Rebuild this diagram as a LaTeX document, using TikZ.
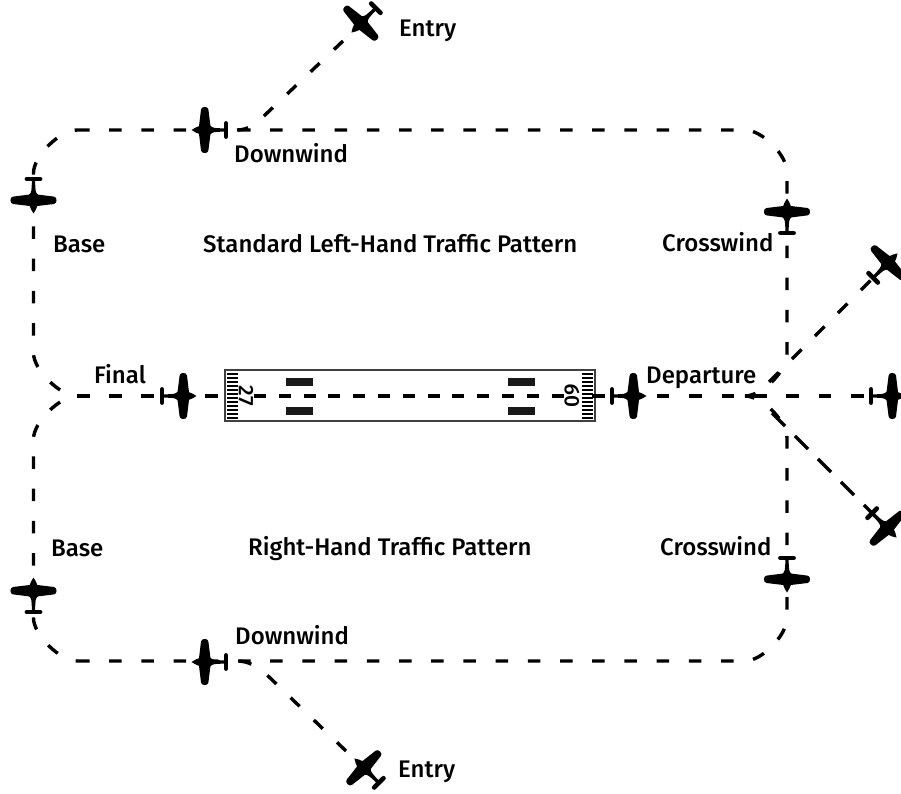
\documentclass[tikz,border=0pt]{standalone}
\usepackage{fontspec}
\setmainfont{Fira Sans}[UprightFont=* Medium]
\tikzset{
  plane/.pic={
    \fill (13.5,0) .. controls (11,2.2) and (8,2.8) .. (6,3.8)
      -- (4,20.5) .. controls (3.6,23.9) and (-3.2,23.9) .. (-3.4,20.5)
      -- (-5.4,4.4) .. controls (-7,2.2) and (-9,1.7) .. (-19,1.7)
      -- (-19,-1.7) .. controls (-9,-1.7) and (-7,-2.2) .. (-5.4,-4.4)
      -- (-3.4,-20.5) .. controls (-3.2,-23.9) and (3.6,-23.9) .. (4,-20.5)
      -- (6,-3.8) .. controls (8,-2.8) and (11,-2.2) .. (13.5,0) -- cycle;
    \draw[line width=4.6pt,line cap=round] (-21,-6.6) -- (-21,6.6);
  },
  route/.style={line width=3.4pt,dash pattern=on 12.5pt off 19.7pt},
  stripe/.style={line width=2.2pt},
  tdzone/.style={line width=1.25pt,black!90}
}
\begin{document}
\begin{tikzpicture}[x=1pt,y=-1pt]
\clip (0,0) rectangle (901,794);
\fill[white] (0,0) rectangle (901,794);
% plane positions
\coordinate (entryT) at (343,41);
\coordinate (kneeT) at (265,115);
\coordinate (dwT) at (237,130);
\coordinate (finalS) at (77,396);
\coordinate (baseTa) at (33.5,353);
\coordinate (baseTb) at (33.5,173);
\coordinate (cornTL) at (77,130);
\coordinate (cornTR) at (745,130);
\coordinate (xwTa) at (787,172);
\coordinate (xwTb) at (787,354);
\coordinate (depE) at (745,396);
\coordinate (baseBa) at (33.5,439);
\coordinate (baseBb) at (33.5,618);
\coordinate (cornBL) at (77,661);
\coordinate (cornBR) at (745,661);
\coordinate (xwBa) at (787,618);
\coordinate (xwBb) at (787,438);
\coordinate (entryB) at (346,751);
\coordinate (kneeB) at (266,674);
\coordinate (dwB) at (237,661);
% runway
\node[draw=black!75,line width=1.5pt,minimum width=370pt,minimum height=51pt,inner sep=0pt] (rwy) at (410,395.5) {};
\foreach \y in {374,378,...,418} {
  \draw[stripe] (227,\y) -- (238,\y);
  \draw[stripe] (582,\y) -- (593,\y);
}
\foreach \y in {379,381,383,385,408,410,412,414} {
  \draw[tdzone] (286,\y) -- (313,\y);
  \draw[tdzone] (508,\y) -- (535,\y);
}
\coordinate (rwyA) at (254,396);
\coordinate (rwyB) at (564,396);
\draw[route,dash pattern=on 12pt off 12.8pt] (rwyA) -- (rwyB);
\node[rotate=-90,inner sep=0pt,font=\fontsize{21}{21}\selectfont] (num27) at (246,396) {27};
\node[rotate=90,inner sep=0pt,font=\fontsize{21}{21}\selectfont] (num09) at (572,396) {09};
% traffic routes
\coordinate (finalE) at (225,396);
\coordinate (depS) at (592,396);
\coordinate (planeR) at (892,396);
\draw[route,dash pattern=on 12.5pt off 19.5pt] (finalS) -- (finalE);
\draw[route,dash pattern=on 12.5pt off 19.9pt] (depS) -- (planeR);
\draw[route,dash phase=14] (finalS) .. controls (60,396) and (33.5,370) .. (baseTa) -- (baseTb) .. controls (33.5,156) and (60,130) .. (cornTL);
\draw[route] (cornTL) -- (cornTR) .. controls (762,130) and (787,155) .. (xwTa) -- (xwTb) .. controls (787,371) and (762,396) .. (depE);
\draw[route,dash phase=14] (finalS) .. controls (60,396) and (33.5,422) .. (baseBa) -- (baseBb) .. controls (33.5,635) and (60,661) .. (cornBL);
\draw[route] (cornBL) -- (cornBR) .. controls (762,661) and (787,635) .. (xwBa) -- (xwBb) .. controls (787,421) and (762,396) .. (depE);
\draw[route] (entryT) -- (kneeT) .. controls (256,124) and (248,130) .. (dwT);
\draw[route] (entryB) -- (kneeB) .. controls (257,666) and (248,661) .. (dwB);
\coordinate (diagU) at (769,382);
\coordinate (planeU) at (888,263);
\coordinate (diagD) at (772,413);
\coordinate (planeD) at (887,528);
\draw[route,dash pattern=on 13.5pt off 19pt] (diagU) -- (planeU);
\draw[route,dash pattern=on 18.5pt off 14pt] (diagD) -- (planeD);
% planes
\pic[rotate=0] (pFinal) at (183,396) {plane};
\pic[rotate=0] (pDep) at (633,396) {plane};
\pic[rotate=180] (pDwT) at (205,130) {plane};
\pic[rotate=-90] (pBaseT) at (33.5,200) {plane};
\pic[rotate=90] (pXwT) at (787,212) {plane};
\pic[rotate=-90] (pXwB) at (787,579) {plane};
\pic[rotate=90] (pBaseB) at (33.5,591) {plane};
\pic[rotate=180] (pDwB) at (205,662) {plane};
\pic[rotate=225] (pEntryT) at (361,23) {plane};
\pic[rotate=135] (pEntryB) at (364,768) {plane};
\pic[rotate=45] (pOutU) at (planeU) {plane};
\pic[rotate=0] (pOutM) at (planeR) {plane};
\pic[rotate=-45] (pOutD) at (planeD) {plane};
% labels
\begin{scope}[every node/.style={anchor=base west,inner sep=0pt,font=\fontsize{24}{24}\selectfont}]
  \node (lEntryT) at (399,36.5) {Entry};
  \node (lDwT) at (234,162.5) {Downwind};
  \node (lBaseT) at (53,252.5) {Base};
  \node (lStd) at (203,252.5) {Standard Left-Hand Traffic Pattern};
  \node (lXwT) at (662,251.5) {Crosswind};
  \node (lFinal) at (94,383) {Final};
  \node (lDep) at (646,383) {Departure};
  \node (lBaseB) at (51,556) {Base};
  \node (lRight) at (248,555.5) {Right-Hand Traffic Pattern};
  \node (lXwB) at (660,555.5) {Crosswind};
  \node (lDwB) at (235,644) {Downwind};
  \node (lEntryB) at (398,777) {Entry};
\end{scope}
\end{tikzpicture}
\end{document}
